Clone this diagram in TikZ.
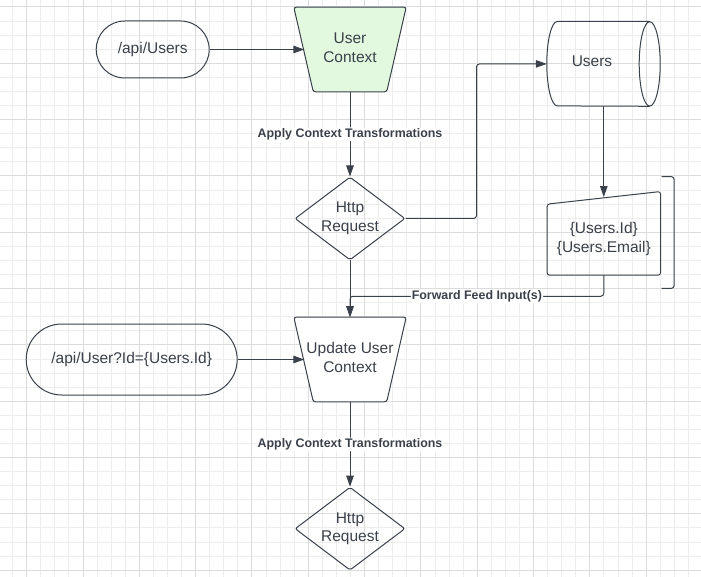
\documentclass[tikz,border=0pt]{standalone}
\usepackage{fontspec}
\setmainfont{Liberation Sans}
\usetikzlibrary{shapes.geometric,shapes.misc,arrows.meta}
\definecolor{ink}{HTML}{3A414A}
\definecolor{ctxgreen}{HTML}{E2F9E0}
\definecolor{gridminor}{HTML}{EDEDED}
\definecolor{gridmajor}{HTML}{DCDCDC}
\tikzset{
  txt/.style={text=ink, font=\fontsize{15.5}{18.5}\selectfont, align=center},
  base/.style={txt, draw=ink, line width=1pt},
  outline/.style={draw=ink, line width=1pt, rounded corners=2.5pt},
  endpoint/.style={base, rounded rectangle, inner sep=0pt},
  ctxbox/.style={minimum width=112pt, minimum height=84.4pt, inner sep=0pt},
  decision/.style={base, diamond, minimum width=110pt, minimum height=83pt, inner sep=1pt, rounded corners=2pt},
  flow/.style={draw=ink, line width=1pt, -{Triangle[length=11pt,width=7.5pt]}, rounded corners=3pt},
  tag/.style={fill=white, text=ink, font=\bfseries\fontsize{12.4}{14}\selectfont, inner sep=1pt},
}
\begin{document}
\begin{tikzpicture}[x=1pt,y=-1pt]
  \path[use as bounding box, fill=white] (0,0) rectangle (701,577);
  \foreach \i in {0,...,48}
    \draw[gridminor, line width=1pt] ({12.6+14.08*\i},0) -- ({12.6+14.08*\i},577);
  \foreach \j in {0,...,40}
    \draw[gridminor, line width=1pt] (0,{7+14.08*\j}) -- (701,{7+14.08*\j});
  \foreach \i in {0,...,11}
    \draw[gridmajor, line width=1pt] ({26.7+56.32*\i},0) -- ({26.7+56.32*\i},577);
  \foreach \j in {0,...,10}
    \draw[gridmajor, line width=1pt] (0,{7+56.32*\j}) -- (701,{7+56.32*\j});

  \node[endpoint, minimum width=113pt, minimum height=57pt] (apiusers) at (152.7,49.5) {/api/Users};
  \node[ctxbox] (userctx) at (350,49.5) {};
  \draw[outline, fill=ctxgreen] (userctx.north west) -- (userctx.north east)
    -- ([xshift=-19.5pt]userctx.south east) -- ([xshift=19.5pt]userctx.south west) -- cycle;
  \node[txt] (userctxtext) at (350,47.5) {User\\Context};
  \node[decision, label={[txt]center:Http\\Request}] (req1) at (350,218.5) {};
  \node[minimum width=113pt, minimum height=84.4pt, inner sep=0pt] (users) at (603.5,63.9) {};
  \draw[draw=ink, line width=1pt] ([xshift=-10.5pt]users.north east) -- ([xshift=10.5pt]users.north west)
    arc[start angle=90, end angle=270, x radius=10.5pt, y radius=42.2pt] -- ([xshift=-10.5pt]users.south east);
  \draw[draw=ink, line width=1pt] ([xshift=-10.5pt]users.east) ellipse [x radius=10.5pt, y radius=42.2pt];
  \node[txt] (userstext) at (592,61.7) {Users};
  \node[minimum width=113pt, minimum height=83.3pt, inner sep=0pt,
    label={[txt, yshift=-5.6pt]center:\{Users.Id\}\\\{Users.Email\}}] (vals) at (603.8,233.4) {};
  \draw[outline] ([yshift=-12.6pt]vals.north west) -- (vals.north east)
    -- (vals.south east) -- (vals.south west) -- cycle;
  \draw[outline] (661.7,176.7) -- (674,176.7) -- (674,288.3) -- (661.7,288.3);
  \node[ctxbox] (updctx) at (350,359.5) {};
  \draw[outline, fill=white] (updctx.north west) -- (updctx.north east)
    -- ([xshift=-19.5pt]updctx.south east) -- ([xshift=19.5pt]updctx.south west) -- cycle;
  \node[txt] (updctxtext) at (350,357.5) {Update User\\Context};
  \node[endpoint, minimum width=211pt, minimum height=71pt] (apiuser) at (131.7,359.5) {/api/User?Id=\{Users.Id\}};
  \node[decision, label={[txt]center:Http\\Request}] (req2) at (350,528.7) {};

  \draw[flow] (apiusers.east) -- ([xshift=10.5pt]userctx.west);
  \draw[flow] (userctx.south) -- node[tag] {Apply Context Transformations} (req1.north);
  \draw[flow] (req1.east) -- ++(71,0) |- (users.west);
  \draw[flow] (users.south -| vals.north) -- ([yshift=-5.5pt]vals.north);
  \draw[flow] (req1.south) -- (updctx.north);
  \draw[flow] (vals.south) -- ++(0,21) -| node[tag, pos=0.25] {Forward Feed Input(s)} (updctx.north);
  \draw[flow] (apiuser.east) -- ([xshift=10.5pt]updctx.west);
  \draw[flow] (updctx.south) -- node[tag] {Apply Context Transformations} (req2.north);
\end{tikzpicture}
\end{document}
